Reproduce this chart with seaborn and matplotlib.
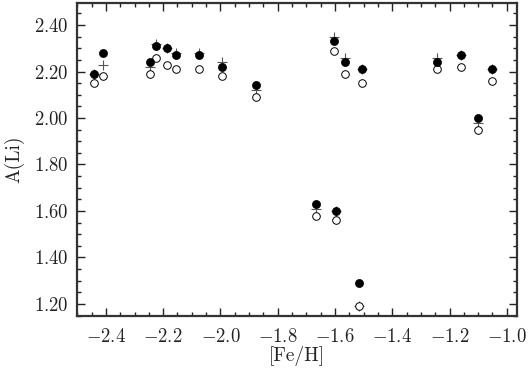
import numpy as np
import pandas as pd
import matplotlib
matplotlib.use("Agg")
import matplotlib.pyplot as plt
from matplotlib.ticker import MultipleLocator, FuncFormatter
import seaborn as sns

# [Fe/H] of each star
feh = [-2.44, -2.41, -2.245, -2.225, -2.185, -2.155, -2.075, -1.995, -1.875,
       -1.665, -1.605, -1.595, -1.565, -1.515, -1.505, -1.245, -1.16, -1.10, -1.05]
# A(Li), three estimates
ali_filled = [2.19, 2.28, 2.24, 2.31, 2.30, 2.27, 2.27, 2.22, 2.14,
              1.63, 2.33, 1.60, 2.24, 1.29, 2.21, 2.24, 2.27, 2.00, 2.21]
ali_open = [2.15, 2.18, 2.19, 2.26, 2.23, 2.21, 2.21, 2.18, 2.09,
            1.58, 2.29, 1.56, 2.19, 1.19, 2.15, 2.21, 2.22, 1.95, 2.16]
ali_plus = [2.19, 2.23, 2.22, 2.32, 2.30, 2.28, 2.28, 2.24, 2.12,
            1.61, 2.35, 1.60, 2.26, 1.19, 2.21, 2.26, 2.27, 1.98, 2.21]

df = pd.DataFrame({"feh": feh, "filled": ali_filled, "open": ali_open, "plus": ali_plus})

sns.set_style("ticks")
plt.rcParams["font.family"] = ["cmr10", "DejaVu Serif"]
plt.rcParams["mathtext.fontset"] = "cm"

fig = plt.figure(figsize=(5.29, 3.70), dpi=100)
ax = fig.add_axes([0.146, 0.146, 0.831, 0.846])

sns.scatterplot(data=df, x="feh", y="plus", marker="+", s=45, color="#555555",
                linewidth=0.8, ax=ax, zorder=2)
sns.scatterplot(data=df, x="feh", y="open", marker="o", s=30, facecolor="white",
                edgecolor="black", linewidth=0.7, ax=ax, zorder=3)
sns.scatterplot(data=df, x="feh", y="filled", marker="o", s=34, color="black",
                edgecolor="black", linewidth=0.5, ax=ax, zorder=4)

ax.set_xlim(-2.5, -0.965)
ax.set_ylim(1.148, 2.495)
ax.xaxis.set_major_locator(MultipleLocator(0.2))
ax.xaxis.set_minor_locator(MultipleLocator(0.05))
ax.yaxis.set_major_locator(MultipleLocator(0.2))
ax.yaxis.set_minor_locator(MultipleLocator(0.05))
ax.xaxis.set_major_formatter(FuncFormatter(lambda v, p: f"${v:.1f}$"))
ax.yaxis.set_major_formatter(FuncFormatter(lambda v, p: f"${v:.2f}$"))
ax.tick_params(which="both", direction="in", top=True, right=True,
               width=1.0, labelsize=13.5, colors="#222222")
ax.tick_params(axis="x", pad=9)
ax.tick_params(axis="y", pad=6)
ax.tick_params(which="major", length=6)
ax.tick_params(which="minor", length=3)
for sp in ax.spines.values():
    sp.set_linewidth(1.6)
    sp.set_color("#333333")

ax.set_xlabel("[Fe/H]", fontsize=14, labelpad=0)
ax.set_ylabel("A(Li)", fontsize=14, labelpad=7)

fig.savefig("out.png", dpi=100)
